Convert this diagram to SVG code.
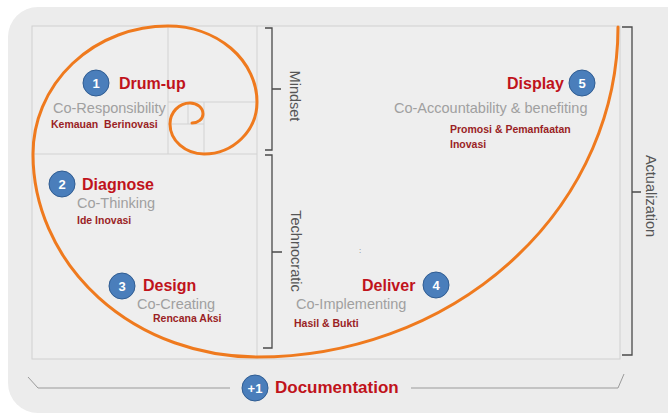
<svg xmlns="http://www.w3.org/2000/svg" width="668" height="414" viewBox="0 0 668 414">
<defs>
<style>
.title{font-family:"Liberation Sans",Arial,sans-serif;font-weight:bold;font-size:16px;fill:#c0131b}
.sub{font-family:"Liberation Sans",Arial,sans-serif;font-size:14.5px;fill:#a0a0a0}
.note{font-family:"Liberation Sans",Arial,sans-serif;font-weight:bold;font-size:10.5px;fill:#9a1f25}
.num{font-family:"Liberation Sans",Arial,sans-serif;font-weight:bold;font-size:13px;fill:#ffffff;text-anchor:middle}
.badge{fill:#4a7ebb;stroke:#2f5c92;stroke-width:1}
.grid{fill:none;stroke:#d2d2d2;stroke-width:1}
.brace{fill:none;stroke:#4a4a4a;stroke-width:1.3}
.side{font-family:"Liberation Sans",Arial,sans-serif;font-size:14.5px;fill:#555555;text-anchor:middle}
.doc{fill:none;stroke:#9a9a9a;stroke-width:1}
</style>
</defs>
<rect x="0" y="0" width="668" height="414" fill="#ffffff"/>
<rect x="8" y="7" width="690" height="406" rx="30" fill="#ececec"/>
<g id="frame">
<rect x="32" y="26" width="588" height="333" fill="#eeeeee" stroke="#d0d0d0" stroke-width="1"/>
<path class="grid" d="M257 26V359M32 154H257M168 26V154M168 102H257M204 102V154M168 124H204M188 102V124"/>
</g>
<g id="connectors">
<path id="spiral" d="M618 27A361 330 0 0 1 257 357A224 203 0 0 1 33 154A135 128 0 0 1 168 26A89 76 0 0 1 257 102A53 52 0 0 1 204 154A34 30 0 0 1 170 124A20 21 0 0 1 190 103A13 11 0 0 1 203 114A11 9 0 0 1 192 123" fill="none" stroke="#ef7a1e" stroke-width="3" stroke-linecap="round"/>
<path class="brace" d="M265 28H272V150H265M272 89H281"/>
<path class="brace" d="M265 155H272V348H263M272 252H282"/>
<path class="brace" d="M622 27H632V355H622M632 192H641" stroke-width="1.6"/>
<path class="doc" d="M28 377L38 388H230M411 388H618L624 374"/>
</g>
<g id="mindset"><text class="side" transform="translate(290,96) rotate(90)">Mindset</text></g>
<g id="technocratic"><text class="side" transform="translate(291,251) rotate(90)">Technocratic</text></g>
<g id="actualization"><text class="side" transform="translate(646,196) rotate(90)">Actualization</text></g>
<g id="step1">
<circle class="badge" cx="96" cy="83" r="13"/><text class="num" x="96" y="87.5">1</text>
<text class="title" x="119" y="89">Drum-up</text>
<text class="sub" x="53" y="113">Co-Responsibility</text>
<text class="note" x="51" y="128" xml:space="preserve" style="white-space:pre">Kemauan  Berinovasi</text>
</g>
<g id="step2">
<circle class="badge" cx="62" cy="184" r="13"/><text class="num" x="62" y="188.5">2</text>
<text class="title" x="82" y="190">Diagnose</text>
<text class="sub" x="77" y="208">Co-Thinking</text>
<text class="note" x="77" y="224">Ide Inovasi</text>
</g>
<g id="step3">
<circle class="badge" cx="122" cy="286" r="13"/><text class="num" x="122" y="290.5">3</text>
<text class="title" x="143" y="291">Design</text>
<text class="sub" x="137" y="309">Co-Creating</text>
<text class="note" x="153" y="322">Rencana Aksi</text>
</g>
<g id="step4">
<circle class="badge" cx="436" cy="285" r="13"/><text class="num" x="436" y="289.5">4</text>
<text class="title" x="362" y="291">Deliver</text>
<text class="sub" x="296" y="309">Co-Implementing</text>
<text class="note" x="294" y="327">Hasil &amp; Bukti</text>
<text x="359" y="253" font-family="Liberation Sans,Arial,sans-serif" font-size="8" fill="#777777">:</text>
</g>
<g id="step5">
<circle class="badge" cx="582" cy="83" r="13"/><text class="num" x="582" y="87.5">5</text>
<text class="title" x="507" y="89">Display</text>
<text class="sub" x="394" y="113">Co-Accountability &amp; benefiting</text>
<text class="note" x="450" y="133">Promosi &amp; Pemanfaatan</text>
<text class="note" x="450" y="148">Inovasi</text>
</g>
<g id="documentation">
<circle class="badge" cx="255" cy="388" r="13"/><text class="num" x="255" y="392.5">+1</text>
<text class="title" x="275" y="393" style="font-size:17px">Documentation</text>
</g>
</svg>
